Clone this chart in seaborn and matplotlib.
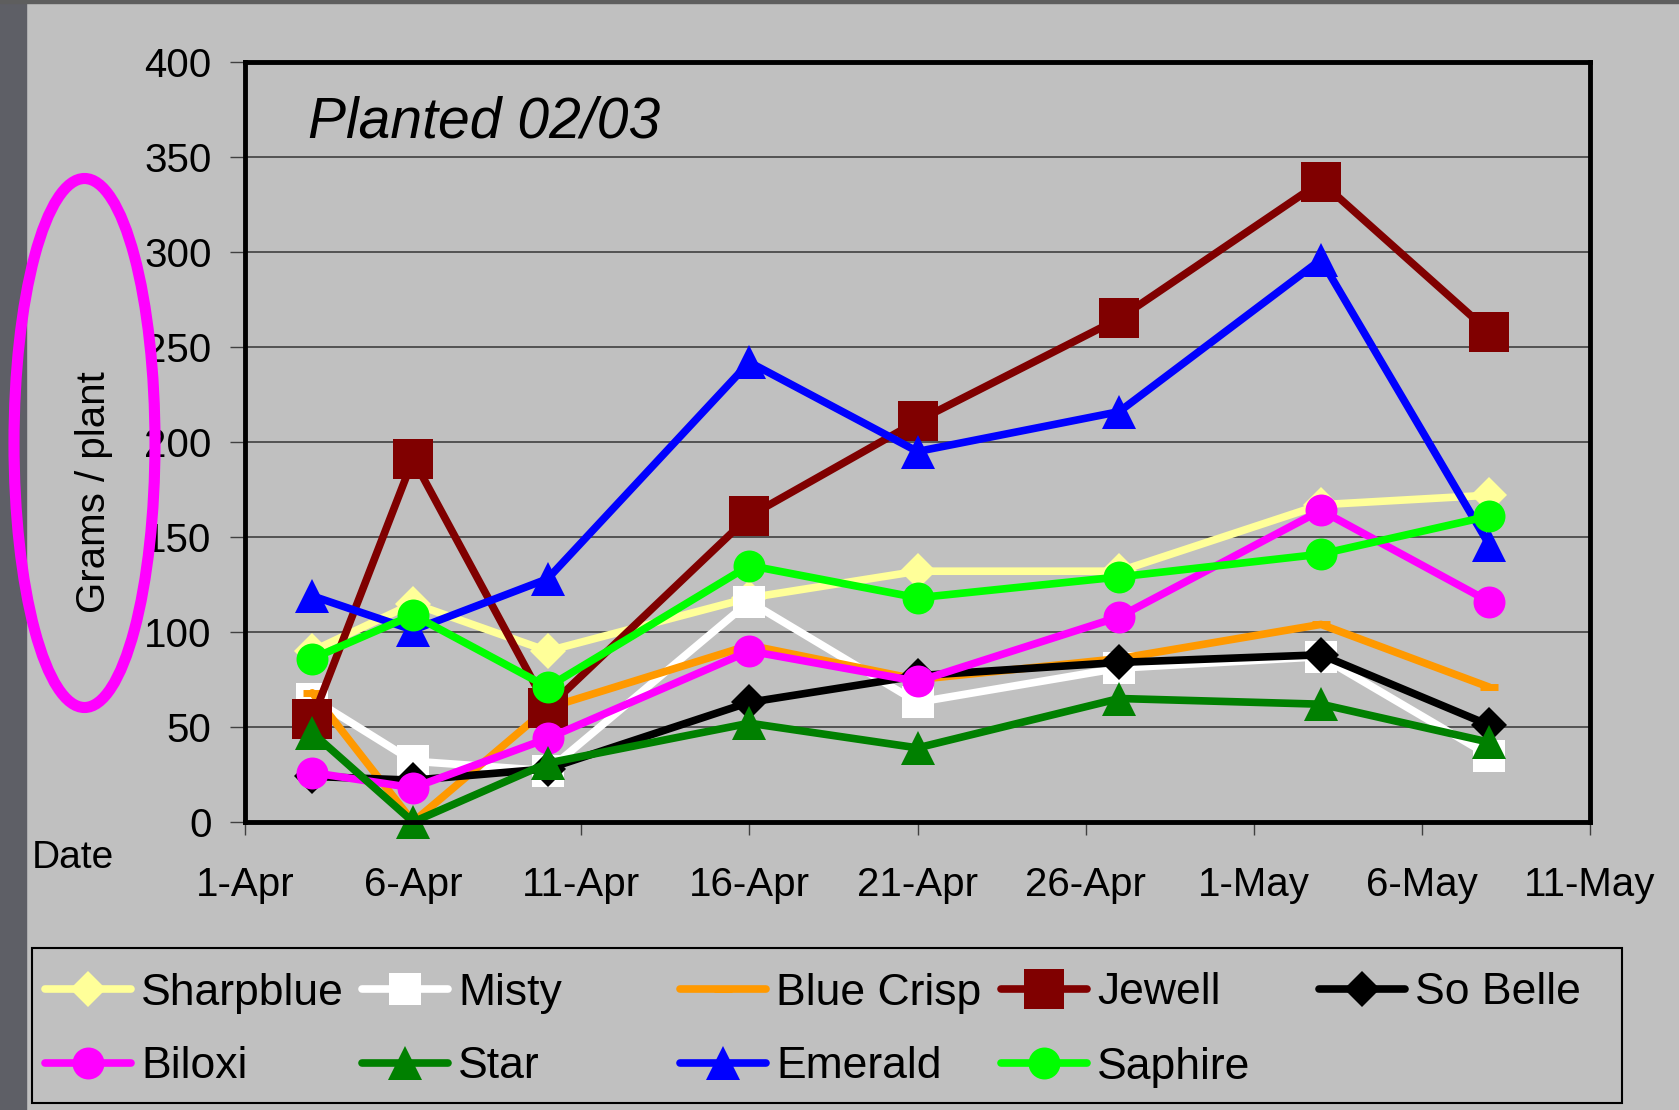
import numpy as np
import pandas as pd
import seaborn as sns
import matplotlib.pyplot as plt
from matplotlib.patches import Ellipse, Rectangle

# values (grams / plant)
dates = pd.to_datetime(["2003-04-03", "2003-04-06", "2003-04-10", "2003-04-16",
                        "2003-04-21", "2003-04-27", "2003-05-03", "2003-05-08"])
sharpblue = [90, 115, 90, 118, 132, 132, 167, 172]
misty = [65, 32, 27, 116, 63, 81, 87, 35]
blue_crisp = [68, 0, 60, 93, 75, 86, 104, 71]
jewell = [54, 191, 60, 161, 211, 265, 337, 258]
so_belle = [24, 22, 28, 63, 77, 84, 88, 51]
biloxi = [26, 18, 44, 90, 74, 108, 164, 116]
star = [47, 0, 31, 52, 39, 65, 62, 42]
emerald = [119, 101, 128, 242, 195, 216, 296, 146]
saphire = [86, 109, 71, 135, 118, 129, 141, 161]

tick_dates = pd.to_datetime(["2003-04-01", "2003-04-06", "2003-04-11", "2003-04-16", "2003-04-21",
                             "2003-04-26", "2003-05-01", "2003-05-06", "2003-05-11"])
tick_labels = ["1-Apr", "6-Apr", "11-Apr", "16-Apr", "21-Apr", "26-Apr", "1-May", "6-May", "11-May"]
y_ticks = [0, 50, 100, 150, 200, 250, 300, 350, 400]

series = [("Sharpblue", sharpblue), ("Misty", misty), ("Blue Crisp", blue_crisp),
          ("Jewell", jewell), ("So Belle", so_belle), ("Biloxi", biloxi),
          ("Star", star), ("Emerald", emerald), ("Saphire", saphire)]

styles = {
    "Sharpblue": dict(color="#FFFF99", marker="D", ms=18, mew=0),
    "Misty": dict(color="#FFFFFF", marker="s", ms=23, mew=0),
    "Blue Crisp": dict(color="#FF9900", marker="_", ms=13, mew=5),
    "Jewell": dict(color="#800000", marker="s", ms=29, mew=0),
    "So Belle": dict(color="#000000", marker="D", ms=18, mew=0),
    "Biloxi": dict(color="#FF00FF", marker="o", ms=23, mew=0),
    "Star": dict(color="#008000", marker="^", ms=25, mew=0),
    "Emerald": dict(color="#0000FF", marker="^", ms=25, mew=0),
    "Saphire": dict(color="#00FF00", marker="o", ms=23, mew=0),
}

sns.set_style("white")
plt.rcParams['font.family'] = ['Liberation Sans', 'DejaVu Sans']
plt.rcParams['text.color'] = 'black'
plt.rcParams['axes.labelcolor'] = 'black'
plt.rcParams['xtick.labelcolor'] = 'black'
plt.rcParams['ytick.labelcolor'] = 'black'

W, H = 1679, 1110
bg = "#C0C0C0"
fig = plt.figure(figsize=(W / 100, H / 100), dpi=100, facecolor=bg)

# dark slide edge on the left / top
fig.patches.append(Rectangle((0, 0), 26 / W, 1, transform=fig.transFigure, color="#5E5F66", zorder=0))
fig.patches.append(Rectangle((0, 1 - 3 / H), 1, 3 / H, transform=fig.transFigure, color="#5E5E5E", zorder=0))

ax = fig.add_axes([245 / W, 1 - 822 / H, (1590 - 245) / W, (822 - 62) / H])
ax.set_facecolor(bg)

handles = []
for name, vals in series:
    st = styles[name]
    sns.lineplot(x=dates, y=vals, ax=ax, color=st["color"], marker=st["marker"],
                 markersize=st["ms"], markeredgecolor=st["color"], markeredgewidth=st["mew"],
                 linewidth=5.5, legend=False, clip_on=False)
    line = ax.lines[-1]
    line.set_label(name)
    handles.append(line)

ax.set_xlim(tick_dates[0], tick_dates[-1])
ax.set_ylim(0, 400)
ax.set_xticks(tick_dates)
ax.set_xticklabels(tick_labels)
ax.set_yticks(y_ticks)
ax.set_xlabel("")
ax.set_ylabel("")
ax.yaxis.grid(True, color="#404040", linewidth=1.2)
ax.xaxis.grid(False)
ax.set_axisbelow(True)
for s in ax.spines.values():
    s.set_color("black")
    s.set_linewidth(3.5)
ax.tick_params(axis="y", direction="out", length=11, width=1, color="#404040", pad=13,
               labelsize=29, labelcolor="black", left=True)
ax.tick_params(axis="x", direction="out", length=9, width=1, color="#404040", pad=23,
               labelsize=29, labelcolor="black", bottom=True)

ax.text((308 - 245) / (1590 - 245), 1 - (138 - 62) / (822 - 62), "Planted 02/03",
        transform=ax.transAxes, fontsize=41, style="italic", va="baseline", ha="left", color="black")

fig.text(94 / W, 1 - 492 / H, "Grams / plant", rotation=90, fontsize=29, ha="center", va="center")
fig.text(73 / W, 1 - 858 / H, "Date", fontsize=28, ha="center", va="center")
fig.patches.append(Ellipse((84.5 / W, 1 - 443 / H), 141 / W, 529 / H, transform=fig.transFigure,
                           fill=False, edgecolor="#FF00FF", linewidth=8))

# legend: Excel-style grid, equal columns
col_x = [45, 362, 680, 1001, 1319]
row_y = [993, 1067]
legend_order = ["Sharpblue", "Misty", "Blue Crisp", "Jewell", "So Belle",
                "Biloxi", "Star", "Emerald", "Saphire"]
names = [n for n, _ in series]
for i, name in enumerate(legend_order):
    h = handles[names.index(name)]
    fig.legend(handles=[h], labels=[name], loc="center left",
               bbox_to_anchor=(col_x[i % 5] / W, 1 - row_y[i // 5] / H),
               frameon=False, fontsize=32, handlelength=1.94, handletextpad=0.22,
               borderpad=0, borderaxespad=0, labelcolor="black")
fig.patches.append(Rectangle((32 / W, 1 - 1103 / H), (1622 - 32) / W, (1103 - 948) / H,
                             transform=fig.transFigure, fill=False, edgecolor="black", linewidth=1.5))

fig.savefig("out.png", dpi=100, facecolor=bg)
